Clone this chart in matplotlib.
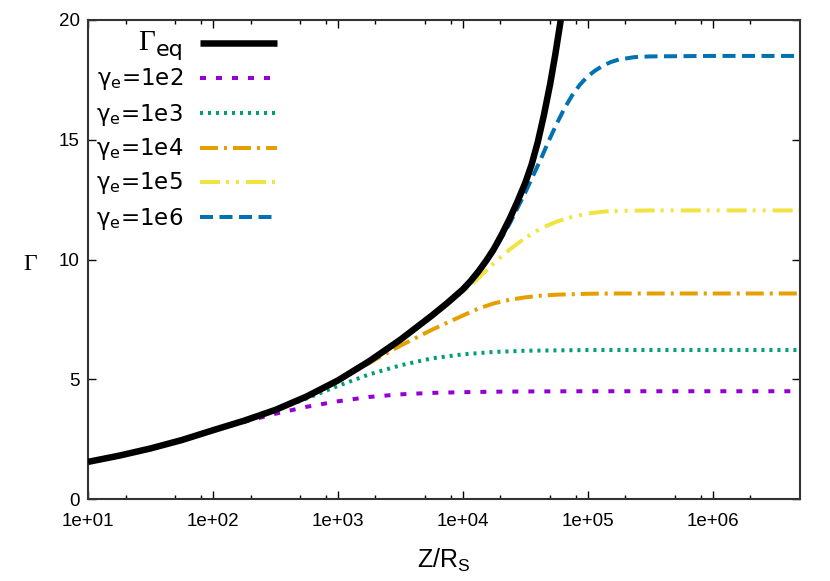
import numpy as np
import matplotlib
matplotlib.use("Agg")
import matplotlib.pyplot as plt
from matplotlib.lines import Line2D
from matplotlib.ticker import FixedLocator, NullFormatter

plt.rcParams['lines.scale_dashes'] = False

# ---- data (log10 Z/R_S and Gamma values) ----
eq_logz = [1.0, 1.25, 1.5, 1.75, 2.0, 2.25, 2.5, 2.75, 3.0, 3.25, 3.5, 3.75, 3.875,
           4.0, 4.0625, 4.125, 4.1875, 4.25, 4.3125, 4.375, 4.4375, 4.5, 4.55,
           4.6, 4.65, 4.7, 4.74, 4.784]
eq_val = [1.55, 1.81, 2.11, 2.46, 2.87, 3.27, 3.72, 4.28, 4.95, 5.75, 6.65, 7.65, 8.18,
          8.75, 9.1, 9.5, 9.95, 10.45, 11.05, 11.7, 12.42, 13.2, 13.95,
          14.9, 16.05, 17.35, 18.55, 20.0]

g2_logz = [1.75, 2.0, 2.25, 2.5, 2.75, 3.0, 3.25, 3.5, 3.75, 4.0, 4.25, 4.5, 5.0, 5.5, 6.0, 6.7]
g2_val = [2.46, 2.86, 3.22, 3.56, 3.85, 4.08, 4.26, 4.37, 4.43, 4.46, 4.48, 4.49, 4.5, 4.5, 4.5, 4.5]

g3_logz = [2.25, 2.5, 2.75, 3.0, 3.25, 3.5, 3.75, 4.0, 4.25, 4.5, 5.0, 5.5, 6.0, 6.7]
g3_val = [3.27, 3.7, 4.2, 4.72, 5.2, 5.58, 5.87, 6.04, 6.14, 6.19, 6.22, 6.22, 6.22, 6.22]

g4_logz = [2.75, 3.0, 3.25, 3.5, 3.75, 4.0, 4.125, 4.25, 4.375, 4.5, 4.625, 4.75, 5.0,
           5.25, 5.5, 6.0, 6.7]
g4_val = [4.28, 4.93, 5.68, 6.4, 7.06, 7.66, 7.95, 8.17, 8.32, 8.42, 8.49, 8.53, 8.57,
          8.58, 8.58, 8.58, 8.58]

g5_logz = [3.5, 3.75, 3.875, 4.0, 4.125, 4.25, 4.375, 4.5, 4.625, 4.75, 4.875, 5.0,
           5.125, 5.25, 5.5, 6.0, 6.7]
g5_val = [6.65, 7.63, 8.13, 8.65, 9.22, 9.85, 10.42, 10.9, 11.3, 11.58, 11.78, 11.92,
          12.0, 12.03, 12.05, 12.05, 12.05]

g6_logz = [3.75, 4.0, 4.125, 4.25, 4.375, 4.5, 4.5625, 4.625, 4.6875, 4.75, 4.8125,
           4.875, 4.9375, 5.0, 5.0625, 5.125, 5.1875, 5.25, 5.375, 5.5, 6.0, 6.7]
g6_val = [7.65, 8.73, 9.45, 10.35, 11.5, 12.8, 13.5, 14.2, 14.95, 15.65, 16.3,
          16.85, 17.3, 17.65, 17.9, 18.1, 18.25, 18.35, 18.45, 18.48, 18.5, 18.5]

labels = ["1e2", "1e3", "1e4", "1e5", "1e6"]
x_ticks = [1e1, 1e2, 1e3, 1e4, 1e5, 1e6]
x_ticklabels = ["1e+01", "1e+02", "1e+03", "1e+04", "1e+05", "1e+06"]
y_ticks = [0, 5, 10, 15, 20]

# ---- styles ----
PX = 72.0 / 100.0  # points per pixel at dpi 100
colors = ["#9400D3", "#009E73", "#E69F00", "#F0E442", "#0072B2"]
dashes = [
    (0, (6 * PX, 10 * PX)),
    (0, (3 * PX, 5 * PX)),
    (0, (18 * PX, 6 * PX, 3 * PX, 6 * PX)),
    (0, (20 * PX, 6 * PX, 3 * PX, 7 * PX, 3 * PX, 7 * PX)),
    (0, (13 * PX, 6.5 * PX)),
]
clw = 4 * PX
blw = 6.5 * PX

fig = plt.figure(figsize=(8.3, 5.81), dpi=100)
L, R, B, T = 88, 800, 82, 561
ax = fig.add_axes([L / 830, B / 581, (R - L) / 830, (T - B) / 581])

series = [(g2_logz, g2_val), (g3_logz, g3_val), (g4_logz, g4_val),
          (g5_logz, g5_val), (g6_logz, g6_val)]
for (lz, v), c, d in zip(series, colors, dashes):
    ax.plot(10 ** np.array(lz), v, color=c, lw=clw, linestyle=d,
            dash_capstyle='butt', solid_joinstyle='round', zorder=2)
ax.plot(10 ** np.array(eq_logz), eq_val, color='black', lw=blw,
        solid_capstyle='butt', solid_joinstyle='round', zorder=3)

ax.set_xscale('log')
ax.set_xlim(10, 5e6)
ax.set_ylim(0, 20)

ax.xaxis.set_major_locator(FixedLocator(x_ticks))
ax.set_xticklabels(x_ticklabels)
minors = [m * 10 ** k for k in range(1, 7) for m in (2, 5, 8) if m * 10 ** k < 5e6]
ax.xaxis.set_minor_locator(FixedLocator(minors))
ax.xaxis.set_minor_formatter(NullFormatter())
ax.set_yticks(y_ticks)
ax.set_yticklabels([str(v) for v in y_ticks])

ax.tick_params(which='both', direction='in', top=True, right=True, color='black', width=1.0)
ax.tick_params(which='major', length=5.5)
ax.tick_params(which='minor', length=3)
ax.tick_params(axis='x', which='major', pad=10)
ax.tick_params(axis='y', which='major', pad=6)
for lab in ax.get_xticklabels() + ax.get_yticklabels():
    lab.set_fontfamily('Liberation Sans')
    lab.set_fontsize(13.5)
for s in ax.spines.values():
    s.set_linewidth(1.5)
    s.set_color('#333333')

ax.set_xlabel(r'Z/R$_\mathregular{S}$', fontfamily='Liberation Sans', fontsize=18, labelpad=12)
ax.text((30 - L) / (R - L), (499 - 265) / (T - B), 'Γ', transform=ax.transAxes,
        fontfamily='Liberation Serif', fontsize=17, ha='center', va='center')


# ---- legend (drawn manually to get right-aligned labels) ----
def axf(px, py):
    return (px - L) / (R - L), (499 - py) / (T - B)


tr = ax.transAxes
x1, _ = axf(200, 0)
x2, _ = axf(277, 0)
_, yy = axf(0, 43)
ax.add_line(Line2D([x1, x2], [yy, yy], transform=tr, color='black', lw=blw,
                   solid_capstyle='butt', clip_on=False))
_, yb = axf(0, 50)
xr, _ = axf(155, 0)
ax.text(xr, yb, 'Γ', transform=tr, fontfamily='Liberation Serif', fontsize=21,
        ha='right', va='baseline')
_, yb2 = axf(0, 56)
xr2, _ = axf(183, 0)
ax.text(xr2, yb2, 'eq', transform=tr, fontfamily='DejaVu Sans', fontsize=16,
        ha='right', va='baseline')

rows = [78, 113, 148, 182, 217]
for lab, c, d, ry in zip(labels, colors, dashes, rows):
    _, yy = axf(0, ry)
    ax.add_line(Line2D([x1, x2], [yy, yy], transform=tr, color=c, lw=clw,
                       linestyle=d, dash_capstyle='butt', clip_on=False))
    _, yb = axf(0, ry + 7.5)
    ax.text(xr2, yb, 'γ$_\\mathregular{e}$=' + lab, transform=tr,
            fontfamily='DejaVu Sans', fontsize=16.5, ha='right', va='baseline')

fig.savefig('out.png', dpi=100)
